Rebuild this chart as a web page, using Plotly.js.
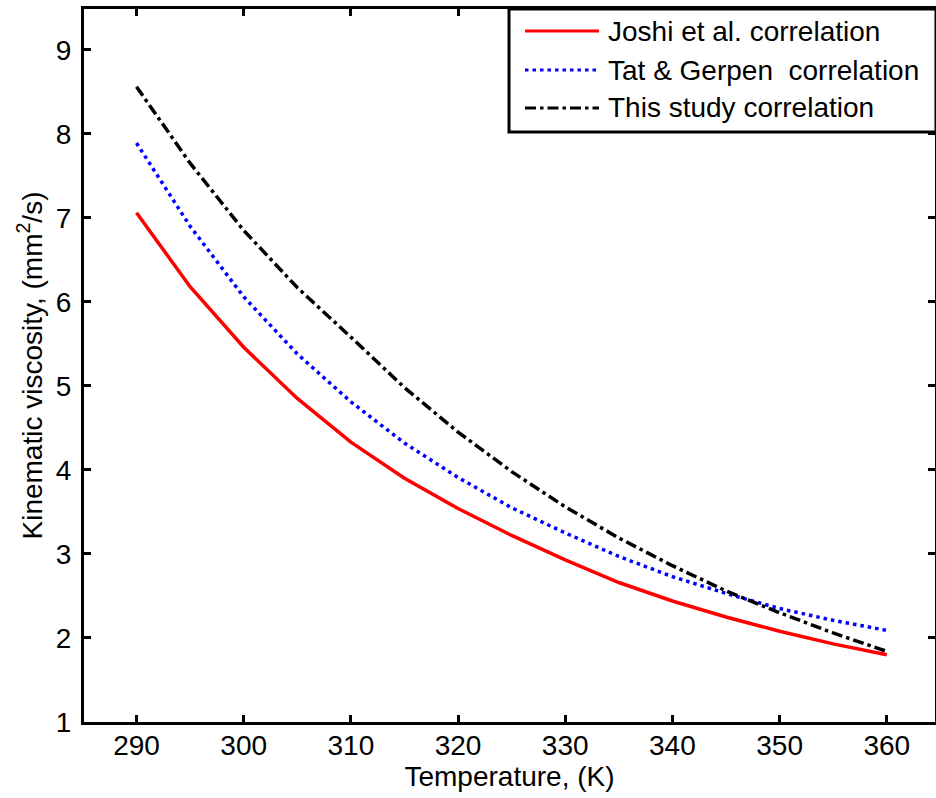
<!DOCTYPE html>
<html>
<head>
<meta charset="utf-8">
<script src="https://cdn.plot.ly/plotly-3.0.1.min.js"></script>
<style>html,body{margin:0;padding:0;background:#fff}#chart{width:936px;height:798px}</style>
</head>
<body>
<div id="chart"></div>
<script>
// ---- data ----
const temperature = [290, 295, 300, 305, 310, 315, 320, 325, 330, 335, 340, 345, 350, 355, 360];
const joshi      = [7.06, 6.18, 5.46, 4.85, 4.33, 3.90, 3.54, 3.22, 2.93, 2.66, 2.44, 2.25, 2.08, 1.93, 1.80];
const tatGerpen  = [7.89, 6.90, 6.06, 5.38, 4.81, 4.32, 3.91, 3.55, 3.25, 2.97, 2.73, 2.53, 2.35, 2.21, 2.09];
const thisStudy  = [8.56, 7.65, 6.85, 6.17, 5.58, 4.98, 4.45, 3.98, 3.56, 3.19, 2.86, 2.56, 2.30, 2.06, 1.84];
const seriesNames = ["Joshi et al. correlation", "Tat & Gerpen\u00A0 correlation", "This study correlation"];
const xTicks = [290, 300, 310, 320, 330, 340, 350, 360];
const yTicks = [1, 2, 3, 4, 5, 6, 7, 8, 9];
const xTitle = "Temperature, (K)";
const yTitle = "Kinematic viscosity, (mm<sup>2</sup>/s)";

// ---- styles ----
const FONT = "Liberation Sans, Arial, Helvetica, sans-serif";
const W = 936, H = 798;
const M = {l: 84, r: 1, t: 9, b: 76};
const PW = W - M.l - M.r, PH = H - M.t - M.b;
const px2x = p => (p - M.l) / PW;
const px2y = p => (H - M.b - p) / PH;

const styles = [
  {color: "#ff0000", dash: "solid", width: 3.5},
  {color: "#0000ff", dash: "3.5px,4px", width: 3.5},
  {color: "#000000", dash: "11px,4px,3.5px,4px", width: 3.5}
];
const seriesValues = [joshi, tatGerpen, thisStudy];

const traces = seriesValues.map((vals, i) => ({
  type: "scatter", mode: "lines", x: temperature, y: vals, name: seriesNames[i],
  line: {color: styles[i].color, dash: styles[i].dash, width: styles[i].width},
  showlegend: false
}));

// manual MATLAB-style legend (box, sample lines, labels)
const shapes = [{
  type: "rect", xref: "paper", yref: "paper",
  x0: px2x(509), x1: px2x(936), y0: px2y(132), y1: px2y(9),
  line: {color: "#000", width: 3}, fillcolor: "#fff", layer: "above"
}];
const annotations = [];
const rowY = [31, 70, 108];
seriesNames.forEach((name, i) => {
  shapes.push({
    type: "line", xref: "paper", yref: "paper",
    x0: px2x(525), x1: px2x(599), y0: px2y(rowY[i]), y1: px2y(rowY[i]),
    line: {color: styles[i].color, width: 3, dash: styles[i].dash}, layer: "above"
  });
  annotations.push({
    xref: "paper", yref: "paper", x: px2x(606), y: px2y(rowY[i]),
    xanchor: "left", yanchor: "middle", showarrow: false,
    text: name, font: {family: FONT, size: 28, color: "#000"}
  });
});

const axisCommon = {
  showline: true, linecolor: "#000", linewidth: 3, mirror: "ticks",
  ticks: "inside", ticklen: 7, tickwidth: 3, tickcolor: "#000",
  showgrid: false, zeroline: false,
  tickfont: {family: FONT, size: 28, color: "#000"}
};

const layout = {
  width: W, height: H, margin: M,
  paper_bgcolor: "#fff", plot_bgcolor: "#fff",
  font: {family: FONT, color: "#000"},
  showlegend: false,
  xaxis: Object.assign({}, axisCommon, {
    range: [285.1, 364.5], tickmode: "array", tickvals: xTicks,
    ticktext: xTicks.map(String), ticklabelstandoff: -4,
    title: {text: xTitle, font: {family: FONT, size: 28, color: "#000"}, standoff: 4}
  }),
  yaxis: Object.assign({}, axisCommon, {
    range: [1, 9.485], tickmode: "array", tickvals: yTicks,
    ticktext: yTicks.map(String), ticklabelstandoff: 4,
    title: {text: yTitle, font: {family: FONT, size: 28, color: "#000"}, standoff: 6}
  }),
  shapes: shapes, annotations: annotations
};

Plotly.newPlot("chart", traces, layout, {displayModeBar: false, staticPlot: true});
</script>
</body>
</html>
